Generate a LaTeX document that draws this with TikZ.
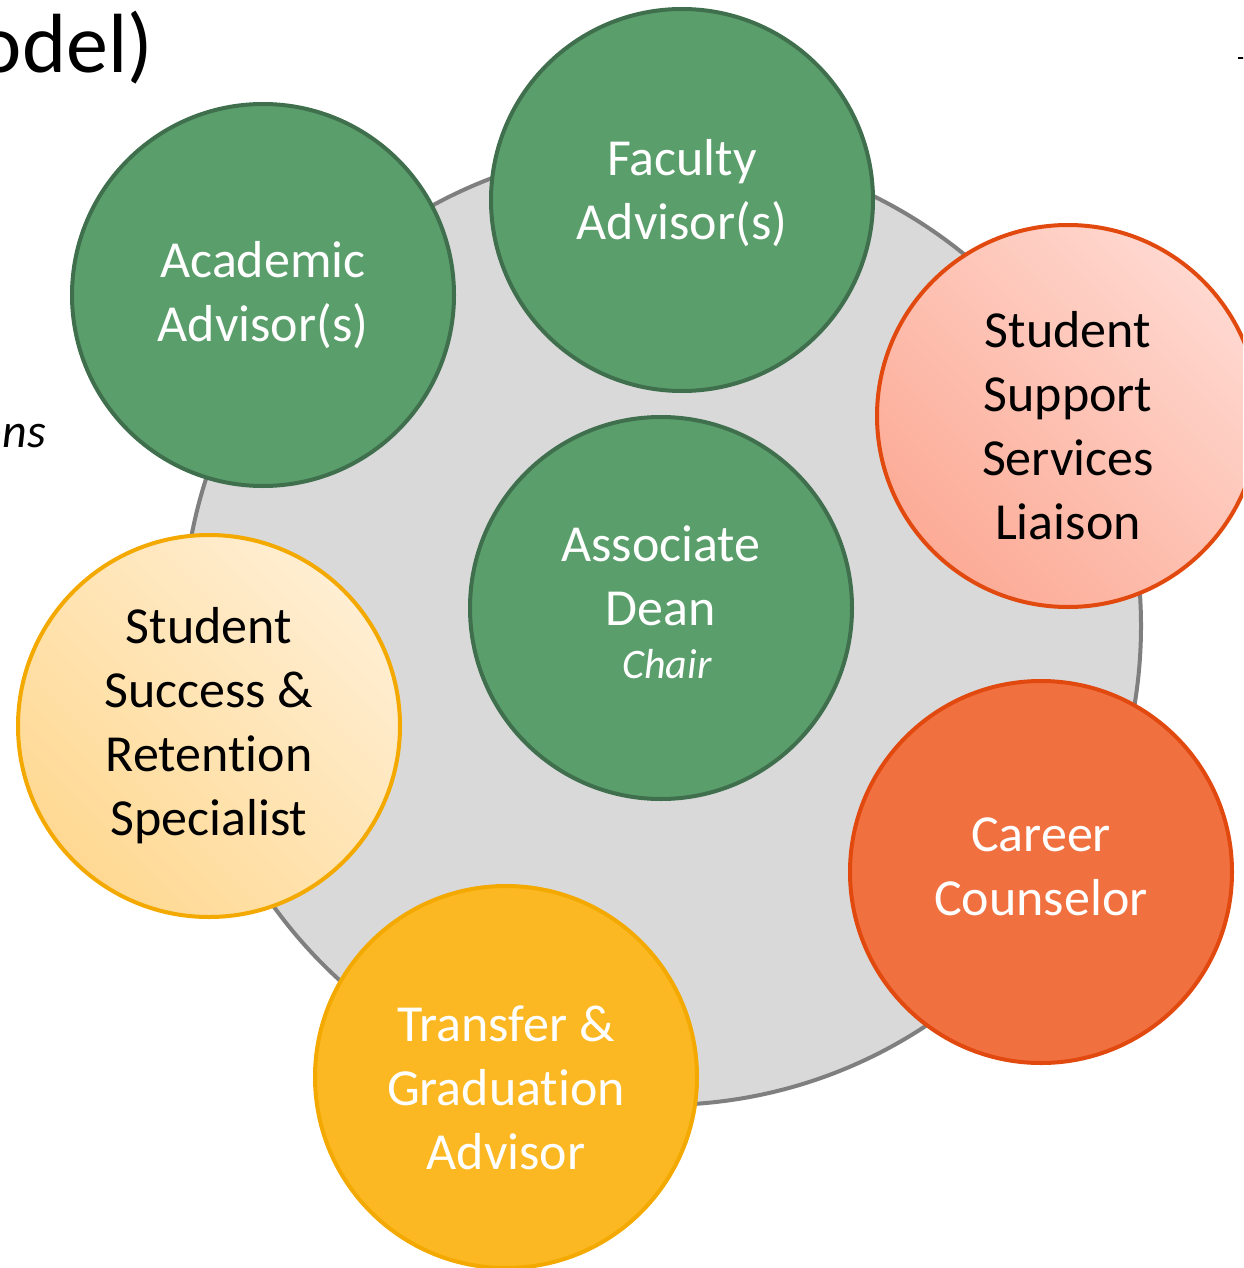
\documentclass[tikz,border=0pt]{standalone}
\usepackage{fontspec}
\setmainfont{Carlito}[Ligatures=CommonOff]
\definecolor{ringgray}{HTML}{D9D9D9}
\definecolor{ringedge}{HTML}{7F7F7F}
\definecolor{leafgreen}{HTML}{5A9E6B}
\definecolor{darkgreen}{HTML}{3F6F4C}
\definecolor{blush}{HTML}{FFD8D0}
\definecolor{salmon}{HTML}{FCAB96}
\definecolor{rust}{HTML}{E1490F}
\definecolor{tangerine}{HTML}{F07040}
\definecolor{cream}{HTML}{FFEED2}
\definecolor{wheat}{HTML}{FFD993}
\definecolor{amber}{HTML}{F3A900}
\definecolor{marigold}{HTML}{FBB822}

\begin{document}
\begin{tikzpicture}[x=1pt, y=-1pt,
	role/.style={circle, inner sep=0pt, minimum size=382pt, line width=4pt},
	grn/.style={role, draw=darkgreen, fill=leafgreen},
	pnk/.style={role, draw=rust, top color=blush, bottom color=salmon, shading angle=-45},
	org/.style={role, draw=rust, fill=tangerine},
	ylw/.style={role, draw=amber, top color=cream, bottom color=wheat, shading angle=-45},
	gld/.style={role, draw=amber, fill=marigold},
	lbl/.style={inner sep=0pt, align=center, font=\fontsize{52}{64}\selectfont}]
	\useasboundingbox (0,0) rectangle (1243,1268);
	\clip (0,0) rectangle (1243,1268);
	\node[anchor=base east, inner sep=0pt, font=\fontsize{84}{100}\selectfont] (Title) at (153,73) {odel)};
	\node[anchor=base east, inner sep=0pt, font=\fontsize{48}{58}\selectfont\itshape] (Note) at (46,447) {ons};
	\coordinate (Tick) at (1238,58); \draw[line width=2.5pt] (Tick) -- ++(6,0);
	\node[circle, inner sep=0pt, minimum size=958pt, line width=4pt, draw=ringedge, fill=ringgray] (Ring) at (662,626) {};
	\node[grn] (Acad) at (263,295) {}; \node[lbl, text=white] (AcadL) at (Acad) {Academic\\Advisor(s)};
	\node[grn] (Fac) at (682,200) {}; \node[lbl, text=white, yshift=7pt] (FacL) at (Fac) {Faculty\\Advisor(s)};
	\node[pnk] (SSS) at (1068,416) {}; \node[lbl, yshift=-10pt] (SSSL) at (SSS) {Student\\Support\\Services\\Liaison};
	\node[grn] (Dean) at (661,608) {}; \node[lbl, text=white, yshift=6pt] (DeanL) at (Dean) {Associate\\Dean\\[-11pt]{\fontsize{42}{53}\selectfont\itshape\hspace*{12pt}Chair}};
	\node[ylw] (SSR) at (209,726) {}; \node[lbl] (SSRL) at (SSR) {Student\\Success \&\\Retention\\Specialist};
	\node[org] (Car) at (1041,872) {}; \node[lbl, text=white, yshift=5pt] (CarL) at (Car) {Career\\Counselor};
	\node[gld] (TGA) at (506,1077) {}; \node[lbl, text=white, yshift=-11pt] (TGAL) at (TGA) {Transfer \&\\Graduation\\Advisor};
\end{tikzpicture}
\end{document}
